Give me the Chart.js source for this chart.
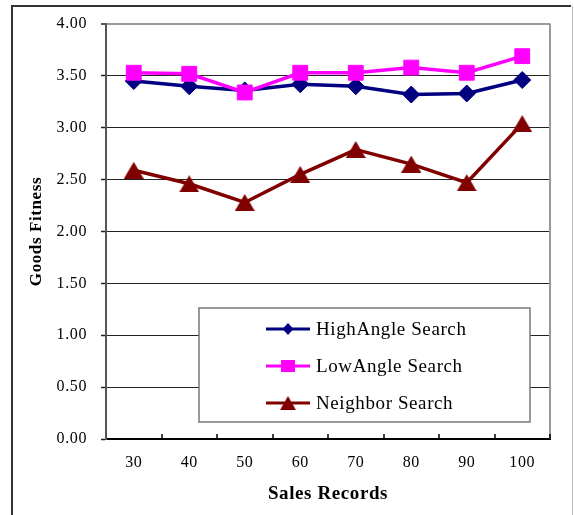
<!DOCTYPE html>
<html>
<head>
<meta charset="utf-8">
<script src="https://cdn.jsdelivr.net/npm/chart.js@4/dist/chart.umd.min.js"></script>
<style>
  html, body { margin: 0; padding: 0; background: #fff; }
  canvas { display: block; }
</style>
</head>
<body>
<canvas id="chart" width="574" height="515"></canvas>
<script>
// Sales record counts on the x axis
const salesRecords = ['30', '40', '50', '60', '70', '80', '90', '100'];
// Goods fitness per search strategy
const highAngleSearch = [3.45, 3.40, 3.36, 3.42, 3.40, 3.32, 3.33, 3.46];
const lowAngleSearch  = [3.53, 3.52, 3.34, 3.53, 3.53, 3.58, 3.53, 3.69];
const neighborSearch  = [2.59, 2.46, 2.28, 2.55, 2.79, 2.65, 2.47, 3.04];
// Y axis range and step
const yMin = 0, yMax = 4, yStep = 0.5;

const SERIF = "'Liberation Serif', 'Times New Roman', serif";
const NAVY = '#000080', MAGENTA = '#FF00FF', MAROON = '#800000';

// Triangle marker centred on its bounding box
function triangleMarker(w, h, color) {
  const c = document.createElement('canvas');
  c.width = w; c.height = h;
  const g = c.getContext('2d');
  g.fillStyle = color;
  g.beginPath();
  g.moveTo(w / 2, 0);
  g.lineTo(w, h);
  g.lineTo(0, h);
  g.closePath();
  g.fill();
  return c;
}
const triMark = triangleMarker(20, 17, MAROON);

// Slightly wider character spacing for canvas text
const spacingPlugin = {
  id: 'spacing',
  beforeLayout(chart) { chart.ctx.letterSpacing = '0.6px'; },
  beforeDraw(chart) { chart.ctx.letterSpacing = '0.6px'; }
};

// White page with the outer frame
const framePlugin = {
  id: 'frame',
  beforeDraw(chart) {
    const ctx = chart.ctx;
    ctx.save();
    ctx.fillStyle = '#fff';
    ctx.fillRect(0, 0, chart.width, chart.height);
    ctx.strokeStyle = '#bbb';
    ctx.lineWidth = 1;
    ctx.beginPath();
    ctx.moveTo(572.5, 6);
    ctx.lineTo(572.5, chart.height);
    ctx.stroke();
    ctx.strokeStyle = '#333';
    ctx.lineWidth = 2;
    ctx.beginPath();
    ctx.moveTo(12, chart.height);
    ctx.lineTo(12, 6);
    ctx.lineTo(571, 6);
    ctx.stroke();
    ctx.restore();
  },
  beforeDatasetsDraw(chart) {
    const { ctx, chartArea: a } = chart;
    ctx.save();
    ctx.strokeStyle = '#999';
    ctx.lineWidth = 2;
    ctx.beginPath();
    ctx.moveTo(a.right, a.top - 0.5);
    ctx.lineTo(a.right, a.bottom);
    ctx.stroke();
    ctx.restore();
  }
};

// Short inward tick marks between categories on the x axis
const innerTicksPlugin = {
  id: 'innerTicks',
  afterDraw(chart) {
    const { ctx } = chart;
    const xs = chart.scales.x;
    const n = salesRecords.length;
    const step = (xs.right - xs.left) / n;
    ctx.save();
    ctx.strokeStyle = '#000';
    ctx.lineWidth = 1.5;
    for (let i = 1; i <= n; i++) {
      const x = Math.round(xs.getPixelForValue(i - 1) + step / 2);
      ctx.beginPath();
      ctx.moveTo(x, xs.top);
      ctx.lineTo(x, xs.top - 5);
      ctx.stroke();
    }
    ctx.restore();
  }
};

// Boxed legend inside the plot
const legendBoxPlugin = {
  id: 'legendBox',
  afterDraw(chart) {
    const ctx = chart.ctx;
    const box = { x: 199, y: 308, w: 331, h: 114 };
    ctx.save();
    ctx.fillStyle = '#fff';
    ctx.fillRect(box.x, box.y, box.w, box.h);
    ctx.strokeStyle = '#777';
    ctx.lineWidth = 1.5;
    ctx.strokeRect(box.x, box.y, box.w, box.h);
    const rows = [329, 366, 403];
    chart.data.datasets.forEach((ds, i) => {
      const y = rows[i];
      ctx.strokeStyle = ds.borderColor;
      ctx.lineWidth = 3;
      ctx.beginPath();
      ctx.moveTo(266, y);
      ctx.lineTo(310, y);
      ctx.stroke();
      ctx.fillStyle = ds.borderColor;
      const mx = 288;
      if (ds.pointStyle === 'rectRot') {
        ctx.beginPath();
        ctx.moveTo(mx, y - 6);
        ctx.lineTo(mx + 5.5, y);
        ctx.lineTo(mx, y + 6);
        ctx.lineTo(mx - 5.5, y);
        ctx.closePath();
        ctx.fill();
      } else if (ds.pointStyle === 'rect') {
        ctx.fillRect(mx - 7, y - 6, 14, 12);
      } else {
        ctx.drawImage(ds.pointStyle, mx - 8, y - 7, 16, 14);
      }
      ctx.fillStyle = '#000';
      ctx.font = '19px ' + SERIF;
      ctx.textAlign = 'left';
      ctx.textBaseline = 'middle';
      ctx.fillText(ds.label, 316, y + 1);
    });
    ctx.restore();
  }
};

new Chart(document.getElementById('chart'), {
  type: 'line',
  data: {
    labels: salesRecords,
    datasets: [
      {
        label: 'HighAngle Search', data: highAngleSearch,
        borderColor: NAVY, backgroundColor: NAVY,
        borderWidth: 3.5, pointStyle: 'rectRot', pointRadius: 8.5,
        pointBorderWidth: 1, pointBorderColor: NAVY, pointBackgroundColor: NAVY,
        tension: 0, order: 1
      },
      {
        label: 'LowAngle Search', data: lowAngleSearch,
        borderColor: MAGENTA, backgroundColor: MAGENTA,
        borderWidth: 3.5, pointStyle: 'rect', pointRadius: 10.5,
        pointBorderWidth: 1, pointBorderColor: MAGENTA, pointBackgroundColor: MAGENTA,
        tension: 0, order: 0
      },
      {
        label: 'Neighbor Search', data: neighborSearch,
        borderColor: MAROON, backgroundColor: MAROON,
        borderWidth: 3.5, pointStyle: triMark, pointRadius: 10,
        tension: 0, order: 2
      }
    ]
  },
  options: {
    responsive: false,
    animation: false,
    devicePixelRatio: 1,
    layout: { padding: { left: 12, top: 24, right: 24, bottom: 0 } },
    plugins: { legend: { display: false }, tooltip: { enabled: false } },
    scales: {
      x: {
        type: 'category',
        offset: true,
        grid: { display: false },
        border: { display: true, color: '#000', width: 2 },
        ticks: {
          color: '#000', font: { family: SERIF, size: 16 },
          padding: 6, maxRotation: 0, autoSkip: false
        },
        title: {
          display: true, text: 'Sales Records', color: '#000',
          font: { family: SERIF, size: 19, weight: 'bold' },
          padding: { top: 0, bottom: 10 }
        },
        afterFit(scale) { scale.height = 76; }
      },
      y: {
        min: yMin, max: yMax,
        ticks: {
          stepSize: yStep, color: '#000',
          font: { family: SERIF, size: 16 },
          padding: 14,
          callback: v => Number(v).toFixed(2)
        },
        grid: {
          color: c => (c.tick && c.tick.value === yMax) ? '#999' : '#222',
          lineWidth: c => (c.tick && c.tick.value === yMax) ? 2 : 1,
          tickColor: '#222', tickLength: 5, tickWidth: 1.5, drawTicks: true
        },
        border: { display: true, color: '#555', width: 2 },
        title: {
          display: true, text: 'Goods Fitness', color: '#000',
          font: { family: SERIF, size: 17, weight: 'bold' },
          padding: { top: 14, bottom: 0 }
        },
        afterFit(scale) { scale.width = 94; }
      }
    }
  },
  plugins: [spacingPlugin, framePlugin, innerTicksPlugin, legendBoxPlugin]
});
</script>
</body>
</html>
